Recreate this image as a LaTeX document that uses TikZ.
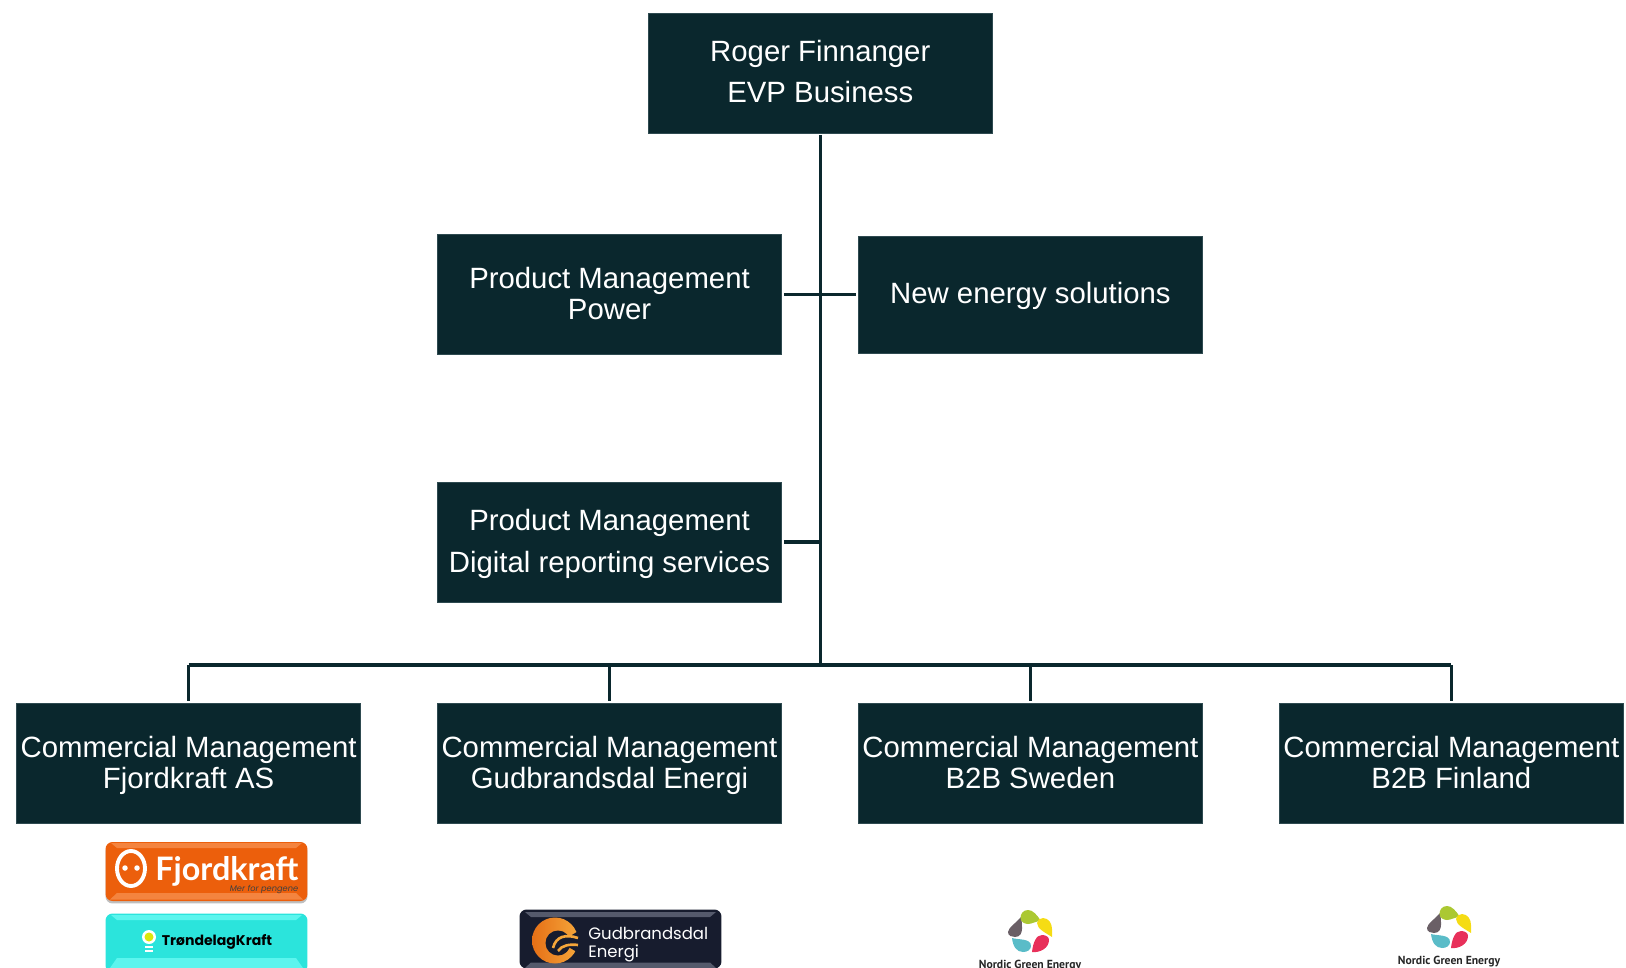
\documentclass[tikz,border=0pt]{standalone}
\usepackage{fontspec}
\setmainfont{Liberation Sans}
\newfontfamily\fjordfont{Lato}
\newfontfamily\logofont{Poppins}
\newfontfamily\ngefont{PT Sans}
\usepackage{xcolor}
\usepackage{tikz}
\usetikzlibrary{positioning, shadows}

\definecolor{boxdark}{HTML}{0A272D}
\definecolor{boxedge}{HTML}{2E4A50}
\definecolor{fjordorange}{HTML}{EC5F0C}
\definecolor{fjordlight}{HTML}{F4843F}
\definecolor{trondcyan}{HTML}{2BE4DC}
\definecolor{trondlight}{HTML}{5CF5EE}
\definecolor{gudnavy}{HTML}{171C2E}
\definecolor{gudlight}{HTML}{555A6C}
\definecolor{gudorange}{HTML}{E56F16}
\definecolor{gudamber}{HTML}{F5A63A}
\definecolor{dropgrey}{HTML}{6A5F66}
\definecolor{dropgreen}{HTML}{ABC832}
\definecolor{dropyellow}{HTML}{F5DC14}
\definecolor{dropteal}{HTML}{5ABCC8}
\definecolor{dropred}{HTML}{E8305A}

\tikzset{
    ngedrops/.pic={
        \fill[dropgrey] (-9,-14) .. controls (-13,-9) and (-22,-3) .. (-22,1) .. controls (-22,5) and (-18,6) .. (-15,6) .. controls (-10,6) and (-8,2) .. (-8,-2) .. controls (-8,-6) and (-8,-10) .. (-9,-14);
        \fill[dropgreen] (11,-10) .. controls (7,-16) and (3,-21) .. (-2,-21) .. controls (-7,-21) and (-9.5,-17) .. (-9.5,-13) .. controls (-9.5,-9) and (-5,-7) .. (-2,-7) .. controls (2,-7) and (6,-10) .. (11,-10);
        \fill[dropyellow] (22,6) .. controls (16,2) and (7,-2) .. (7,-8) .. controls (7,-11) and (10,-13) .. (13,-13) .. controls (19,-13) and (22,-7) .. (22,-2) .. controls (22,1) and (22,4) .. (22,6);
        \fill[dropteal] (-18,7) .. controls (-12,9) and (1,7) .. (1,15) .. controls (1,19) and (-3,21) .. (-7,21) .. controls (-13,21) and (-17,16) .. (-18,7);
        \fill[dropred] (2,21) .. controls (10,22) and (19,17) .. (19,9) .. controls (19,6) and (16,4) .. (12,4) .. controls (6,4) and (3,12) .. (2,21);
    }
}

\begin{document}
\begin{tikzpicture}[
    x=0.02cm, y=-0.02cm,
    orgbox/.style={rectangle, draw=boxedge, line width=0.2pt, fill=boxdark, text=white, align=center, text depth=1.5pt, minimum width=6.88cm, minimum height=2.4cm, inner sep=0pt, outer sep=0pt},
    tight/.style={font=\fontsize{16.7}{17.6}\selectfont},
    wide/.style={font=\fontsize{16.7}{23.5}\selectfont},
    link/.style={line width=1.8pt, draw=boxdark},
    logobox/.style={rectangle, rounded corners=0.14cm, minimum width=4.04cm, minimum height=1.18cm, inner sep=0pt},
    ngetext/.style={font=\ngefont\fontsize{6.65}{8}\selectfont\bfseries, text=black!85, inner sep=0pt}
]
\path[use as bounding box, clip] (0,0) rectangle (1626,967.8);

% Bottom row
\node[orgbox, tight] (fjord) at (188.6,763.5) {Commercial Management\\Fjordkraft AS};
\node[orgbox, tight, right=1.54cm of fjord] (gudbrandsdal) {Commercial Management\\Gudbrandsdal Energi};
\node[orgbox, tight, right=1.54cm of gudbrandsdal] (sweden) {Commercial Management\\B2B Sweden};
\node[orgbox, tight, right=1.54cm of sweden] (finland) {Commercial Management\\B2B Finland};

% Staff boxes
\node[orgbox, wide, above=2.03cm of gudbrandsdal] (digital) {Product Management\\Digital reporting services};
\node[orgbox, tight, above=2.55cm of digital] (power) {Product Management\\Power};
\node[orgbox, wide, minimum height=2.35cm, right=1.54cm of power] (newenergy) {New energy solutions};
\node[orgbox, wide] (root) at (820.3,73) {Roger Finnanger\\EVP Business};

% Connectors
\coordinate (bus) at (root.south |- 0,665);
\draw[link, shorten <=0.05cm] (root.south) -- (bus);
\draw[link, shorten <=0.05cm, shorten >=0.05cm] (power.east) -- (newenergy.west);
\draw[link, shorten <=0.05cm] (digital.east) -- (digital.east -| root.south);
\draw[link] (bus -| fjord.north) -- (bus -| finland.north);
\draw[link, shorten >=0.06cm] (bus -| fjord.north) -- (fjord.north);
\draw[link, shorten >=0.06cm] (bus -| gudbrandsdal.north) -- (gudbrandsdal.north);
\draw[link, shorten >=0.06cm] (bus -| sweden.north) -- (sweden.north);
\draw[link, shorten >=0.06cm] (bus -| finland.north) -- (finland.north);

% Fjordkraft logo
\node[logobox, fill=fjordorange, drop shadow={shadow xshift=0cm, shadow yshift=-0.05cm, opacity=0.25, fill=black}] (fjordlogo) at (206.5,871.5) {};
\fill[fjordlight] (111,843) -- (302,843) -- (296,848) -- (117,848) -- cycle;
\fill[fjordlight] (117,893) -- (296,893) -- (303,899.5) -- (110,899.5) -- cycle;
\draw[white, line width=2.2pt] (131,868.5) ellipse (14 and 17.5);
\node[circle, fill=white, inner sep=0pt, minimum size=0.11cm] (fjordeyeleft) at (125,868) {};
\node[circle, fill=white, inner sep=0pt, minimum size=0.11cm] (fjordeyeright) at (137,868) {};
\node[text=white, inner sep=0pt, anchor=base west, font=\fjordfont\fontsize{18.4}{20}\selectfont\bfseries] (fjordname) at (155,880) {Fjordkraft};
\node[text=black!75, inner sep=0pt, font=\logofont\fontsize{4.7}{6}\selectfont\itshape] (fjordslogan) at (264,889) {Mer for pengene};

% TrondelagKraft logo
\node[logobox, fill=trondcyan] (trondlogo) at (206.5,943) {};
\fill[trondlight] (111,915) -- (302,915) -- (296,920) -- (117,920) -- cycle;
\fill[trondlight] (117,958) -- (296,958) -- (303,968) -- (110,968) -- cycle;
\fill[white] (149,937) circle (7);
\fill[yellow!85!green] (149,937) circle (4.5);
\fill[white] (145,946) rectangle (153,948);
\fill[white] (145,950) rectangle (153,952);
\node[text=black, inner sep=0pt, font=\logofont\fontsize{8}{10}\selectfont\bfseries] (trondname) at (217,942) {TrøndelagKraft};

% Gudbrandsdal logo
\node[logobox, fill=gudnavy] (gudlogo) at (620.5,939) {};
\fill[gudlight] (525,912) -- (716,912) -- (710,917) -- (531,917) -- cycle;
\fill[gudlight] (531,962.5) -- (710,962.5) -- (716,968) -- (525,968) -- cycle;
\shade[left color=gudorange, right color=gudamber] (555,940.5) circle (23);
\fill[gudnavy] (558,943) circle (12.5);
\fill[gudnavy] (560,942) -- (582,929) -- (582,955) -- cycle;
\draw[gudamber, line width=1.5pt] (553,948) .. controls (556,936) and (566,934) .. (578,938);
\draw[gudamber, line width=1.5pt] (558,951) .. controls (562,945) and (570,944) .. (578,945);
\node[text=white, inner sep=0pt, align=left, anchor=base west, font=\logofont\fontsize{9.4}{10.2}\selectfont] (gudname) at (588,957) {Gudbrandsdal\\Energi};

% Nordic Green Energy logos
\pic at (1030,931) {ngedrops};
\pic at (1449,927) {ngedrops};
\node[ngetext] (ngeleft) at (1030,965.5) {Nordic Green Energy};
\node[ngetext] (ngeright) at (1449,962) {Nordic Green Energy};

\end{tikzpicture}
\end{document}
